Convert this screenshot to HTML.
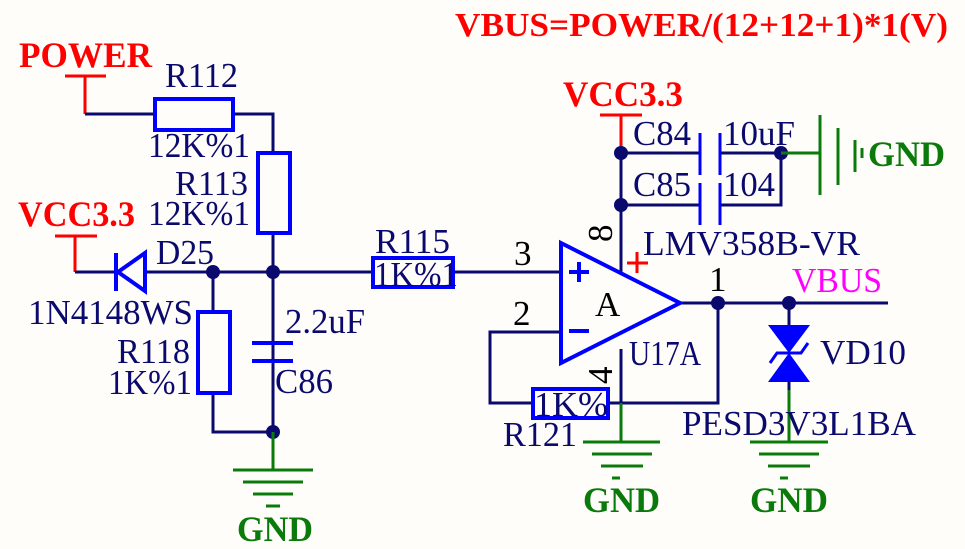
<!DOCTYPE html>
<html><head><meta charset="utf-8"><style>
html,body{margin:0;padding:0;background:#fffdf9;}
svg{display:block}
text{font-family:"Liberation Serif",serif;}
.n{fill:#0a0a6e;font-size:35px;}
.r{fill:#ff0000;font-weight:bold;font-size:36px;}
.g{fill:#0a7a0a;font-weight:bold;font-size:36px;}
.k{fill:#000;font-size:35px;}
</style></head><body>
<svg width="965" height="549" viewBox="0 0 965 549" xmlns="http://www.w3.org/2000/svg">
<rect width="965" height="549" fill="#fffdf9"/>
<text x="455" y="36" class="r" style="font-size:34px" textLength="493" lengthAdjust="spacingAndGlyphs">VBUS=POWER/(12+12+1)*1(V)</text>
<text x="19" y="67" class="r" textLength="133" lengthAdjust="spacingAndGlyphs">POWER</text>
<g stroke="#ff0000" stroke-width="3" fill="none"><path d="M65 76H106M85 76V114"/><path d="M55 236H97M75 236V272"/><path d="M600 115H642M621 115V153"/></g>
<g stroke="#0a0a6e" stroke-width="3" fill="none">
<path d="M85 114H154"/><path d="M234 114H273V153"/><path d="M273 233V432H213V393"/><path d="M213 312V272"/>
<path d="M75 272H115"/><path d="M145 272H372"/><path d="M453 272H561"/>
<path d="M561 332H490V403H533"/><path d="M608 403H718V303"/><path d="M680 303H888"/>
<path d="M621 153V273"/><path d="M621 349V440"/>
<path d="M621 153H700M621 205H700M720 153H781V205H720"/>
<path d="M789 303V325M789 382V440"/>
</g>
<g stroke="#0000ff" stroke-width="4" fill="none">
<rect x="155" y="99" width="78" height="31"/>
<rect x="258" y="153" width="32" height="80"/>
<rect x="198" y="312" width="32" height="81"/>
<rect x="373" y="258" width="80" height="29"/>
<rect x="533" y="389" width="75" height="29"/>
<path d="M116 253V291"/>
<path d="M252 343H293M252 361H293" stroke-width="4"/>
<path d="M700 133V175M720 133V175M700 183V225M720 183V225" stroke-width="3"/>
<path d="M561 243L680 303L561 363Z"/>
<path d="M569 272H589M579 262V282M569 331H589"/>
</g>
<path d="M118 272L145 253V291Z" fill="none" stroke="#0000ff" stroke-width="4"/>
<path d="M768 325H810L789 353ZM789 353L768 382H810Z" fill="#0000ff"/>
<path d="M770 363L777 353H801L808 343" stroke="#0000ff" stroke-width="3" fill="none"/>
<path d="M627 263H648M637 252V273" stroke="#ff0000" stroke-width="3"/>
<g fill="#0a0a6e"><circle cx="213" cy="272" r="7"/><circle cx="273" cy="272" r="7"/><circle cx="273" cy="432" r="7"/><circle cx="621" cy="153" r="7"/><circle cx="621" cy="205" r="7"/><circle cx="781" cy="153" r="7"/><circle cx="718" cy="303" r="7"/><circle cx="789" cy="303" r="7"/></g>
<g stroke="#0a7a0a" stroke-width="3" fill="none">
<path d="M273 432V470M233 470H313M243 482H303M253 494H293M266 506H280"/>
<path d="M621 403V442M583 442H660M592 454H652M601 466H643M612 478H620"/>
<path d="M789 390V442M750 442H828M759 454H819M768 466H810M780 478H788"/>
<path d="M781 153H820M820 115V195M838 128V185M855 140V172M862 148V158"/>
</g>
<text x="237" y="541" class="g" textLength="76" lengthAdjust="spacingAndGlyphs">GND</text>
<text x="583" y="512" class="g" textLength="77" lengthAdjust="spacingAndGlyphs">GND</text>
<text x="750" y="512" class="g" textLength="78" lengthAdjust="spacingAndGlyphs">GND</text>
<text x="868" y="166" class="g" textLength="77" lengthAdjust="spacingAndGlyphs">GND</text>
<text x="18" y="226" class="r" textLength="117" lengthAdjust="spacingAndGlyphs">VCC3.3</text>
<text x="563" y="106" class="r" textLength="120" lengthAdjust="spacingAndGlyphs">VCC3.3</text>
<text x="165" y="87" class="n" textLength="73" lengthAdjust="spacingAndGlyphs">R112</text>
<text x="148" y="157" class="n" textLength="102" lengthAdjust="spacingAndGlyphs">12K%1</text>
<text x="175" y="195" class="n" textLength="73" lengthAdjust="spacingAndGlyphs">R113</text>
<text x="148" y="225" class="n" textLength="102" lengthAdjust="spacingAndGlyphs">12K%1</text>
<text x="156" y="264" class="n" textLength="58" lengthAdjust="spacingAndGlyphs">D25</text>
<text x="28" y="324" class="n" textLength="165" lengthAdjust="spacingAndGlyphs">1N4148WS</text>
<text x="117" y="363" class="n" textLength="73" lengthAdjust="spacingAndGlyphs">R118</text>
<text x="108" y="394" class="n" textLength="84" lengthAdjust="spacingAndGlyphs">1K%1</text>
<text x="285" y="333" class="n" textLength="80" lengthAdjust="spacingAndGlyphs">2.2uF</text>
<text x="275" y="393" class="n" textLength="58" lengthAdjust="spacingAndGlyphs">C86</text>
<text x="375" y="253" class="n" textLength="75" lengthAdjust="spacingAndGlyphs">R115</text>
<text x="374" y="286" class="n" textLength="84" lengthAdjust="spacingAndGlyphs">1K%1</text>
<text x="534" y="416" class="n" textLength="74" lengthAdjust="spacingAndGlyphs">1K%</text>
<text x="503" y="446" class="n" textLength="74" lengthAdjust="spacingAndGlyphs">R121</text>
<text x="514" y="265" class="k">3</text>
<text x="513" y="325" class="k">2</text>
<text x="595" y="316" class="k">A</text>
<text x="709" y="291" class="k">1</text>
<text x="0" y="0" class="k" transform="translate(612,384) rotate(-90)">4</text>
<text x="0" y="0" class="k" transform="translate(612,242) rotate(-90)">8</text>
<text x="633" y="145" class="n" textLength="58" lengthAdjust="spacingAndGlyphs">C84</text>
<text x="723" y="145" class="n" textLength="72" lengthAdjust="spacingAndGlyphs">10uF</text>
<text x="633" y="196" class="n" textLength="58" lengthAdjust="spacingAndGlyphs">C85</text>
<text x="723" y="196" class="n" textLength="52" lengthAdjust="spacingAndGlyphs">104</text>
<text x="643" y="255" class="n" textLength="217" lengthAdjust="spacingAndGlyphs">LMV358B-VR</text>
<text x="792" y="292" style="fill:#ff00ff;font-size:35px" textLength="90" lengthAdjust="spacingAndGlyphs">VBUS</text>
<text x="629" y="365" class="n" textLength="72" lengthAdjust="spacingAndGlyphs">U17A</text>
<text x="820" y="364" class="n" textLength="86" lengthAdjust="spacingAndGlyphs">VD10</text>
<text x="682" y="435" class="n" textLength="234" lengthAdjust="spacingAndGlyphs">PESD3V3L1BA</text>
</svg>
</body></html>
